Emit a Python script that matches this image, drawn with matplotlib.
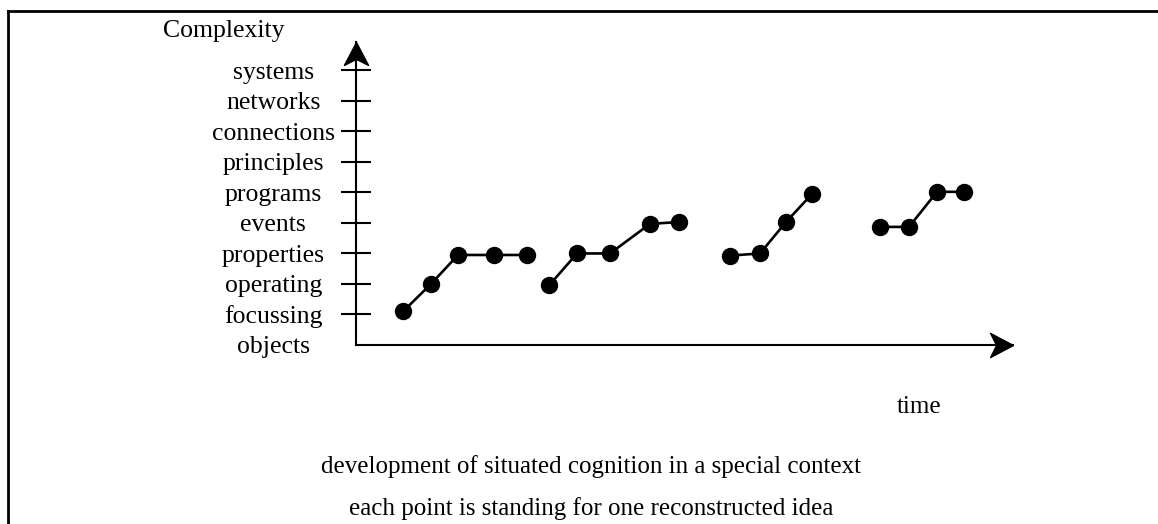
import matplotlib
matplotlib.use("Agg")
from matplotlib import pyplot as plt
from matplotlib.lines import Line2D

plt.rcParams["font.family"] = ["Liberation Serif", "DejaVu Serif"]

# complexity levels, bottom to top
levels = ["objects", "focussing", "operating", "properties", "events",
          "programs", "principles", "connections", "networks", "systems"]

# four sequences of reconstructed ideas (time, complexity level)
t1 = [4.7, 7.5, 10.2, 13.8, 17.1]
c1 = [1.1, 2.0, 2.95, 2.95, 2.95]
t2 = [19.3, 22.1, 25.4, 29.4, 32.3]
c2 = [1.95, 3.0, 3.0, 3.97, 4.03]
t3 = [37.4, 40.4, 43.0, 45.6]
c3 = [2.93, 3.0, 4.03, 4.95]
t4 = [52.4, 55.3, 58.1, 60.8]
c4 = [3.87, 3.87, 5.02, 5.02]

fig = plt.figure(figsize=(11.58, 5.24), dpi=100)
ax = fig.add_axes([356 / 1158, 179 / 524, 657 / 1158, 303 / 524])

for t, c in [(t1, c1), (t2, c2), (t3, c3), (t4, c4)]:
    ax.plot(t, c, color="black", lw=1.9, marker="o", markersize=11.5,
            markerfacecolor="black", markeredgecolor="black", clip_on=False)

ax.set_xlim(0, 65.7)
ax.set_ylim(0, 9.93)

for s in ["top", "right"]:
    ax.spines[s].set_visible(False)
for s in ["left", "bottom"]:
    ax.spines[s].set_linewidth(1.5)
    ax.spines[s].set_color("black")

ax.set_xticks([])
ax.set_yticks(range(len(levels)))
ax.set_yticklabels(levels, fontsize=18.5)
ax.tick_params(axis="y", direction="inout", length=21, width=1.5, pad=49)
for lab in ax.get_yticklabels():
    lab.set_horizontalalignment("center")
ax.yaxis.get_major_ticks()[0].tick1line.set_visible(False)

# arrow heads at the ends of the axes
up = [(0, 0), (0.5, -0.95), (0, -0.7), (-0.5, -0.95), (0, 0)]
right = [(0, 0), (-0.95, 0.5), (-0.7, 0), (-0.95, -0.5), (0, 0)]
ax.plot([0], [1], marker=up, markersize=33, color="black",
        transform=ax.transAxes, clip_on=False)
ax.plot([1], [0], marker=right, markersize=33, color="black",
        transform=ax.transAxes, clip_on=False)

fig.text(224 / 1158, 1 - 37 / 524, "Complexity", fontsize=18.5,
         ha="center", va="baseline")
fig.text(919 / 1158, 1 - 413 / 524, "time", fontsize=18,
         ha="center", va="baseline")
fig.text(591 / 1158, 1 - 473 / 524,
         "development of situated cognition in a special context",
         fontsize=18, ha="center", va="baseline")
fig.text(591 / 1158, 1 - 515 / 524,
         "each point is standing for one reconstructed idea",
         fontsize=18, ha="center", va="baseline")

# frame around the figure (top and left side only)
fig.add_artist(Line2D([8 / 1158, 1], [1 - 11 / 524, 1 - 11 / 524],
                      color="black", lw=2, transform=fig.transFigure))
fig.add_artist(Line2D([8 / 1158, 8 / 1158], [0, 1 - 11 / 524],
                      color="black", lw=2, transform=fig.transFigure))

fig.savefig("out.png", dpi=100)
